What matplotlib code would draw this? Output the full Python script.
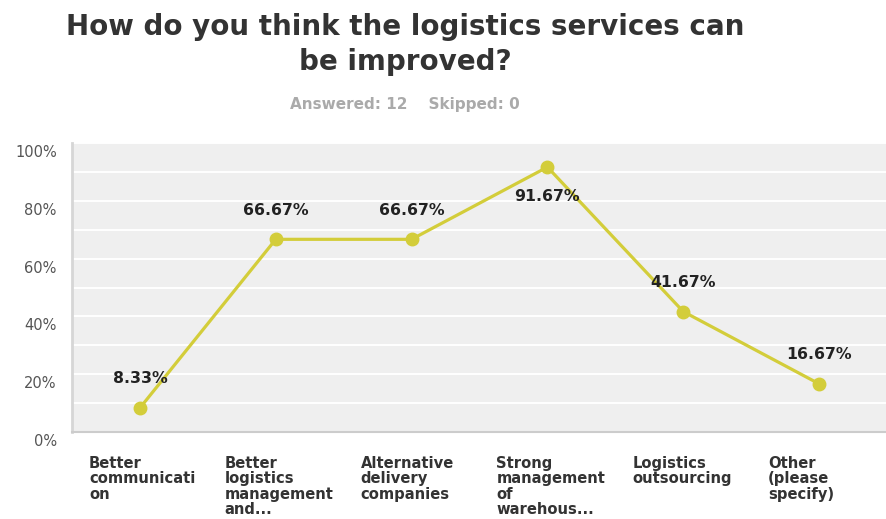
import numpy as np
import matplotlib
matplotlib.use("Agg")
import matplotlib.pyplot as plt
from matplotlib.transforms import ScaledTranslation

categories = [
    "Better\ncommunicati\non",
    "Better\nlogistics\nmanagement\nand...",
    "Alternative\ndelivery\ncompanies",
    "Strong\nmanagement\nof\nwarehous...",
    "Logistics\noutsourcing",
    "Other\n(please\nspecify)",
]
values = [8.33, 66.67, 66.67, 91.67, 41.67, 16.67]
y_ticks = [0, 20, 40, 60, 80, 100]
y_tick_labels = ["0%", "20%", "40%", "60%", "80%", "100%"]

title = "How do you think the logistics services can\nbe improved?"
subtitle = "Answered: 12    Skipped: 0"

line_color = "#d3cd3a"

fig = plt.figure(figsize=(8.87, 5.19), dpi=100)
W, H = 887, 519
ax = fig.add_axes([72 / W, 1 - 432 / H, 815 / W, 289 / H])
ax.set_facecolor("#efefef")

x = np.arange(len(categories))
ax.plot(x, values, color=line_color, lw=2.3, marker="o", ms=9,
        solid_capstyle="round", zorder=3, clip_on=False)

for xi, v in zip(x, values):
    dy = -21 if v > 85 else 21
    ax.annotate(f"{v:.2f}%", (xi, v), xytext=(0, dy), textcoords="offset points",
                ha="center", va="center", fontsize=11.3, fontweight="bold",
                color="#222222", zorder=4)

ax.set_xlim(-0.5, len(categories) - 0.5)
ax.set_ylim(0, 100)

ax.set_yticks(y_ticks)
ax.set_yticklabels(y_tick_labels, fontsize=10.5, color="#555555")
ax.set_yticks(np.arange(10, 100, 20), minor=True)
ax.grid(True, which="both", axis="y", color="white", lw=1.4)
ax.set_axisbelow(True)
ax.tick_params(axis="y", which="both", length=0, pad=11)
for lab in ax.get_yticklabels():
    lab.set_transform(lab.get_transform() + ScaledTranslation(0, -8 / 100, fig.dpi_scale_trans))

ax.set_xticks(x)
ax.set_xticklabels(categories, fontsize=10.6, fontweight="bold", color="#333333",
                   ha="left", va="top", linespacing=1.05)
ax.tick_params(axis="x", length=0, pad=17)
for lab in ax.get_xticklabels():
    lab.set_transform(lab.get_transform() + ScaledTranslation(-51 / 100, 0, fig.dpi_scale_trans))

for side in ("top", "right"):
    ax.spines[side].set_visible(False)
ax.spines["left"].set_color("#d6d6d6")
ax.spines["left"].set_linewidth(2)
ax.spines["bottom"].set_color("#cccccc")
ax.spines["bottom"].set_linewidth(1.5)

fig.text(405 / W, 1 - 44.5 / H, title, ha="center", va="center", fontsize=20,
         fontweight="bold", color="#333333", linespacing=1.35)
fig.text(405 / W, 1 - 104 / H, subtitle, ha="center", va="center", fontsize=11,
         fontweight="bold", color="#aaaaaa")

fig.savefig("out.png", dpi=100)
